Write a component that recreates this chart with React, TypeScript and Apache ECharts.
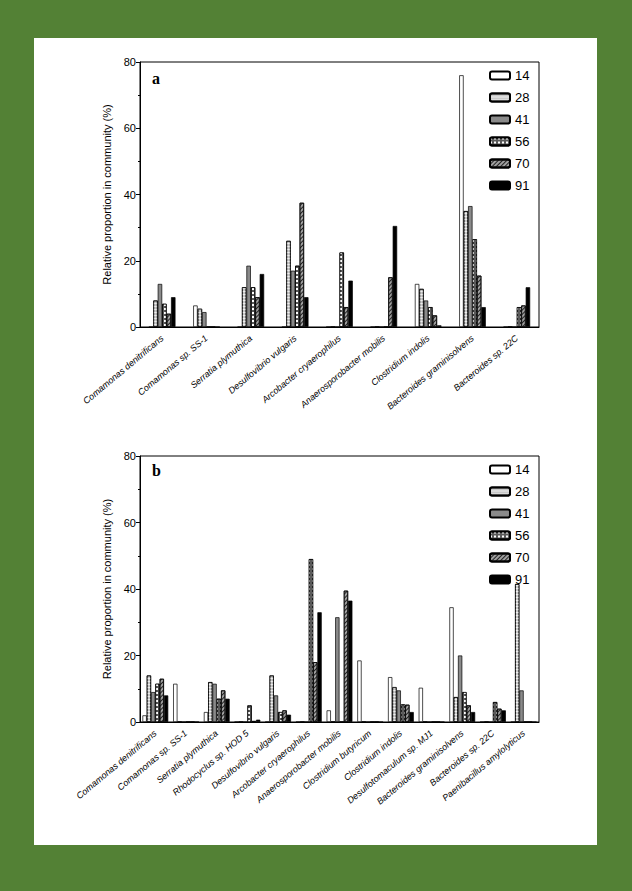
import { useEffect, useRef } from "react";
import * as echarts from "echarts";

const days = ["14", "28", "41", "56", "70", "91"];

const catsA = [
  "Comamonas denitrificans", "Comamonas sp. SS-1", "Serratia plymuthica", "Desulfovibrio vulgaris",
  "Arcobacter cryaerophilus", "Anaerosporobacter mobilis", "Clostridium indolis",
  "Bacteroides graminisolvens", "Bacteroides sp. 22C",
];
// rows = day, columns = category
const valsA = [
  [0, 6.5, 0, 0, 0, 0, 13, 76, 0],
  [8, 5.5, 12, 26, 0, 0, 11.5, 35, 0],
  [13, 4.5, 18.5, 17, 0, 0, 8, 36.5, 0],
  [7, 0, 12, 18.5, 22.5, 0, 6, 26.5, 6],
  [4, 0, 9, 37.5, 6, 15, 3.5, 15.5, 6.5],
  [9, 0, 16, 9, 14, 30.5, 0.5, 6, 12],
];

const catsB = [
  "Comamonas denitrificans", "Comamonas sp. SS-1", "Serratia plymuthica", "Rhodocyclus sp. HOD 5",
  "Desulfovibrio vulgaris", "Arcobacter cryaerophilus", "Anaerosporobacter mobilis",
  "Clostridium butyricum", "Clostridium indolis", "Desulfotomaculum sp. MJ1",
  "Bacteroides graminisolvens", "Bacteroides sp. 22C", "Paenibacillus amylolyticus",
];
const valsB = [
  [2, 11.5, 3, 0, 0, 0, 3.5, 18.5, 13.5, 10.3, 34.5, 0, 0],
  [14, 0, 12, 0, 14, 0, 0, 0, 10.5, 0, 7.5, 0, 41.5],
  [9, 0, 11.5, 0, 8, 0, 31.5, 0, 9.5, 0, 20, 0, 9.5],
  [11.5, 0, 7, 5, 3, 49, 0, 0, 5.3, 0, 9, 6, 0],
  [13, 0, 9.5, 0.3, 3.5, 18, 39.5, 0, 5.2, 0, 5, 4, 0],
  [8, 0, 7, 0.7, 2.2, 33, 36.5, 0, 3, 0, 3, 3.5, 0],
];

const fills = ["#ffffff", "#c8c8c8", "#8a8a8a", "#5a5a5a", "#a0a0a0", "#000000"];
const decals: any[] = [
  null,
  { symbol: "rect", color: "rgba(255,255,255,0.7)", dashArrayX: [1, 0], dashArrayY: [1, 2] },
  null,
  { symbol: "rect", color: "#ffffff", dashArrayX: [2, 2], dashArrayY: [2, 2], symbolSize: 1 },
  { symbol: "rect", color: "#222222", dashArrayX: [1, 0], dashArrayY: [1, 2], rotation: -Math.PI / 4 },
  null,
];

const yName = "Relative proportion in community (%)";

export default function App() {
  const ref = useRef<HTMLDivElement>(null);
  useEffect(() => {
    if (!ref.current) return;
    const chart = echarts.init(ref.current, null, { renderer: "svg" });
    const grids = [
      { left: 140, top: 62, width: 399, height: 265, show: true, borderColor: "#000", borderWidth: 1 },
      { left: 140, top: 456, width: 399, height: 266, show: true, borderColor: "#000", borderWidth: 1 },
    ];
    const xAxis = [catsA, catsB].map((c, i) => ({
      type: "category", gridIndex: i, data: c,
      axisLine: { lineStyle: { color: "#000" } },
      axisTick: { alignWithLabel: true, length: 5, lineStyle: { color: "#000" } },
      axisLabel: { rotate: 40, fontSize: 9, fontStyle: "italic", color: "#000", interval: 0, fontFamily: "Liberation Sans", margin: 10 },
    }));
    const yAxis = [0, 1].map((i) => ({
      type: "value", gridIndex: i, min: 0, max: 80, interval: 20,
      name: yName, nameLocation: "middle", nameGap: 26,
      nameTextStyle: { fontSize: 11, color: "#000", fontFamily: "Liberation Sans" },
      axisLine: { show: true, lineStyle: { color: "#000" } },
      axisTick: { show: true, inside: false, length: 4, lineStyle: { color: "#000" } },
      minorTick: { show: true, splitNumber: 2, length: 2, lineStyle: { color: "#000" } },
      splitLine: { show: false },
      axisLabel: { fontSize: 11, color: "#000", fontFamily: "Liberation Sans", margin: 4 },
    }));
    const series: any[] = [];
    [valsA, valsB].forEach((vals, g) => {
      vals.forEach((row, d) => {
        series.push({
          type: "bar", name: days[d], xAxisIndex: g, yAxisIndex: g, data: row,
          barGap: "0%", barCategoryGap: g === 0 ? "40%" : "16%",
          itemStyle: { color: fills[d], borderColor: "#000", borderWidth: 0.7, decal: decals[d] || undefined },
        });
      });
    });
    const legend = (top: number) => ({
      orient: "vertical", left: 484, top, itemWidth: 20, itemHeight: 8, itemGap: 9,
      data: days, textStyle: { fontSize: 13, color: "#000", fontFamily: "Liberation Sans" },
      selectedMode: false,
    });
    chart.setOption({
      animation: false,
      backgroundColor: "#538135",
      graphic: [
        { type: "rect", shape: { x: 34, y: 38, width: 563, height: 807 }, style: { fill: "#fff" }, z: -10 },
        { type: "text", x: 152, y: 70, style: { text: "a", font: "bold 16px 'Liberation Serif'", fill: "#000" } },
        { type: "text", x: 152, y: 462, style: { text: "b", font: "bold 16px 'Liberation Serif'", fill: "#000" } },
      ],
      grid: grids, xAxis, yAxis, series,
      legend: [legend(64), legend(458)],
    });
    return () => chart.dispose();
  }, []);
  return <div ref={ref} style={{ position: "fixed", left: 0, top: 0, width: 632, height: 891 }} />;
}
